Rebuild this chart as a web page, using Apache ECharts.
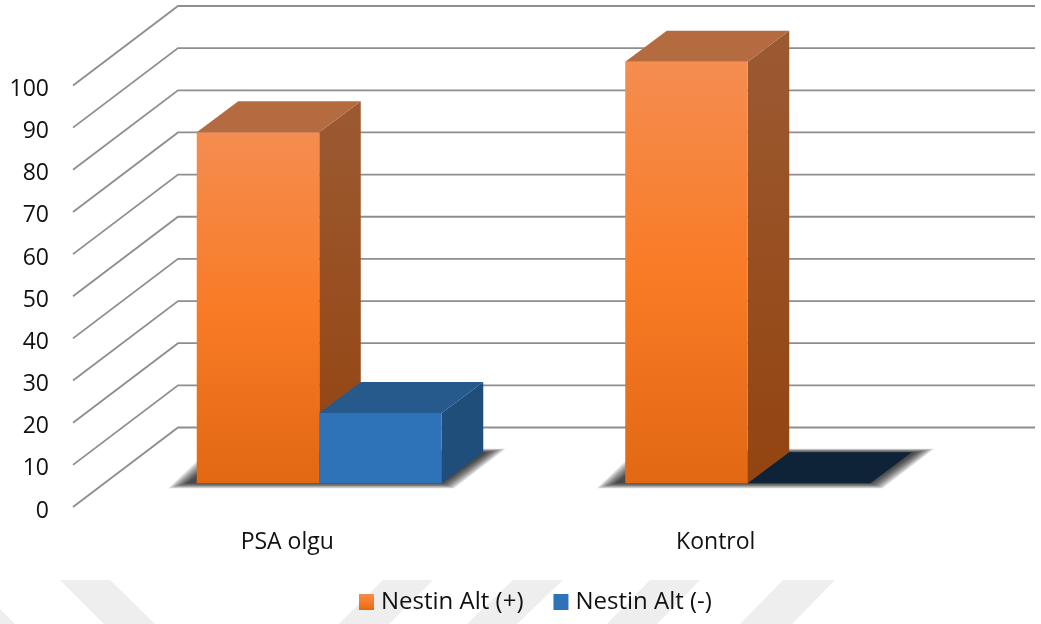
<!DOCTYPE html>
<html>
<head>
<meta charset="utf-8">
<style>html,body{margin:0;padding:0;background:#fff}#chart{width:1041px;height:624px}</style>
<script src="https://cdn.jsdelivr.net/npm/echarts@6/dist/echarts.min.js"></script>
</head>
<body>
<div id="chart"></div>
<script>
// Values
const categories = ['PSA olgu', 'Kontrol'];
const nestinPositive = [83.3, 100];
const nestinNegative = [16.7, 0];
const yTicks = [0, 10, 20, 30, 40, 50, 60, 70, 80, 90, 100];
const seriesNames = ['Nestin Alt (+)', 'Nestin Alt (-)'];

// Oblique projection used to fake the 3D box look
const WALL_DX = 105, WALL_DY = -79.5;   // front plane to back wall
const ROW_DX = 32, ROW_DY = -23.7;      // front plane to bar front
const BAR_DX = 41.5, BAR_DY = -31;      // bar depth
const BAR_W = 122.5;

const FONT = '"Open Sans", sans-serif';
const grad = (stops) => new echarts.graphic.LinearGradient(0, 0, 0, 1, stops);

const orangeFront = () => grad([{offset: 0, color: '#F48D50'}, {offset: 0.5, color: '#F97B26'}, {offset: 1, color: '#E26813'}]);
const orangeSide = () => grad([{offset: 0, color: '#9C5A32'}, {offset: 1, color: '#934410'}]);

function renderWall(params, api) {
  const p = api.coord([0, api.value(0)]);
  const right = params.coordSys.x + params.coordSys.width;
  return {
    type: 'polyline',
    silent: true,
    shape: {points: [
      [p[0] - params.coordSys.width / 4, p[1]],
      [params.coordSys.x + WALL_DX, p[1] + WALL_DY],
      [right + WALL_DX, p[1] + WALL_DY]
    ]},
    style: {stroke: '#8E8E8E', lineWidth: 1.8, fill: null}
  };
}

// Soft floor shadow: stacked translucent outlines that grow outwards
function renderFloorShadow(params, api) {
  const p = api.coord([api.value(0), 0]);
  const cx = p[0] + ROW_DX, base = p[1] + ROW_DY;
  const x0 = cx - BAR_W, x1 = cx + BAR_W;
  const children = [];
  for (let e = 7; e >= 0; e--) {
    children.push({
      type: 'polygon',
      silent: true,
      shape: {points: [
        [x0 - 10 - 2.6 * e, base + 0.7 * e],
        [x1 + 1 + 1.6 * e, base + 0.7 * e],
        [x1 + BAR_DX + 4 + 2.6 * e, base + BAR_DY - 0.5 * e],
        [x0 + BAR_DX - 10 - 2.6 * e, base + BAR_DY - 0.5 * e]
      ]},
      style: {fill: 'rgba(0,0,0,0.14)'}
    });
  }
  return {type: 'group', children};
}

function boxRenderer(side, paint) {
  return function (params, api) {
    const top = api.coord([api.value(0), api.value(1)]);
    const bottom = api.coord([api.value(0), 0]);
    const cx = top[0] + ROW_DX;
    const x0 = side < 0 ? cx - BAR_W : cx;
    const x1 = x0 + BAR_W;
    const yt = top[1] + ROW_DY, yb = bottom[1] + ROW_DY;
    const flat = api.value(1) === 0;
    const colors = paint(flat);
    const children = [];
    if (!flat) {
      children.push({
        type: 'polygon',
        shape: {points: [[x1, yt], [x1 + BAR_DX, yt + BAR_DY], [x1 + BAR_DX, yb + BAR_DY], [x1, yb]]},
        style: {fill: colors.side}
      });
      children.push({
        type: 'rect',
        shape: {x: x0, y: yt, width: BAR_W, height: yb - yt},
        style: {fill: colors.front}
      });
    }
    children.push({
      type: 'polygon',
      shape: {points: [[x0, yt], [x0 + BAR_DX, yt + BAR_DY], [x1 + BAR_DX, yt + BAR_DY], [x1, yt]]},
      style: {fill: colors.top}
    });
    return {type: 'group', children};
  };
}

const chart = echarts.init(document.getElementById('chart'), null, {renderer: 'canvas'});

// Pale diagonal stripes along the bottom edge of the page
const stripes = [
  [[0, 609], [15, 624], [0, 624]],
  [[60, 580], [110, 580], [155, 624], [104, 624]],
  [[383, 580], [433, 580], [389, 624], [339, 624]],
  [[513, 580], [563, 580], [517, 624], [467, 624]],
  [[650, 580], [700, 580], [657, 624], [607, 624]],
  [[783, 580], [835, 580], [792, 624], [740, 624]]
];

chart.setOption({
  animation: false,
  backgroundColor: '#fff',
  textStyle: {fontFamily: FONT},
  graphic: stripes.map(points => ({
    type: 'polygon', silent: true, z: -10,
    shape: {points},
    style: {fill: '#EEEEEE'}
  })),
  grid: {left: 73, top: 85.5, width: 857, height: 421.5},
  legend: {
    data: [
      {name: seriesNames[0], itemStyle: {color: orangeFront()}},
      {name: seriesNames[1], itemStyle: {color: '#2E73B8'}}
    ],
    icon: 'rect',
    left: 354,
    top: 585,
    itemWidth: 15,
    itemHeight: 16,
    itemGap: 30,
    selectedMode: false,
    textStyle: {fontFamily: FONT, fontSize: 24, color: '#111', padding: [0, 0, 0, 2]}
  },
  xAxis: {
    type: 'category',
    data: categories,
    axisLine: {show: false},
    axisTick: {show: false},
    splitLine: {show: false},
    axisLabel: {margin: 24, fontFamily: FONT, fontSize: 23, color: '#111'}
  },
  yAxis: {
    type: 'value',
    min: 0, max: 100, interval: 10,
    axisLine: {show: false},
    axisTick: {show: false},
    splitLine: {show: false},
    axisLabel: {margin: 24, fontFamily: FONT, fontSize: 23, color: '#111', verticalAlign: 'top', lineHeight: 8}
  },
  series: [
    {
      type: 'custom', name: 'walls', silent: true, clip: false, z: 1,
      coordinateSystem: 'cartesian2d',
      renderItem: renderWall,
      data: yTicks.map(v => [v]),
      encode: {y: 0}
    },
    {
      type: 'custom', name: 'floor', silent: true, clip: false, z: 2,
      coordinateSystem: 'cartesian2d',
      renderItem: renderFloorShadow,
      data: categories.map((c, i) => [i])
    },
    {
      type: 'custom', name: seriesNames[0], clip: false, z: 3,
      coordinateSystem: 'cartesian2d',
      itemStyle: {color: '#F97B26'},
      renderItem: boxRenderer(-1, () => ({front: orangeFront(), side: orangeSide(), top: '#B56B40'})),
      data: nestinPositive.map((v, i) => [i, v]),
      encode: {x: 0, y: 1}
    },
    {
      type: 'custom', name: seriesNames[1], clip: false, z: 4,
      coordinateSystem: 'cartesian2d',
      itemStyle: {color: '#2E73B8'},
      renderItem: boxRenderer(1, flat => flat
        ? {top: '#0E2338'}
        : {front: '#2E73B8', side: '#1F4E7A', top: '#265A8C'}),
      data: nestinNegative.map((v, i) => [i, v]),
      encode: {x: 0, y: 1}
    }
  ]
});
</script>
</body>
</html>
